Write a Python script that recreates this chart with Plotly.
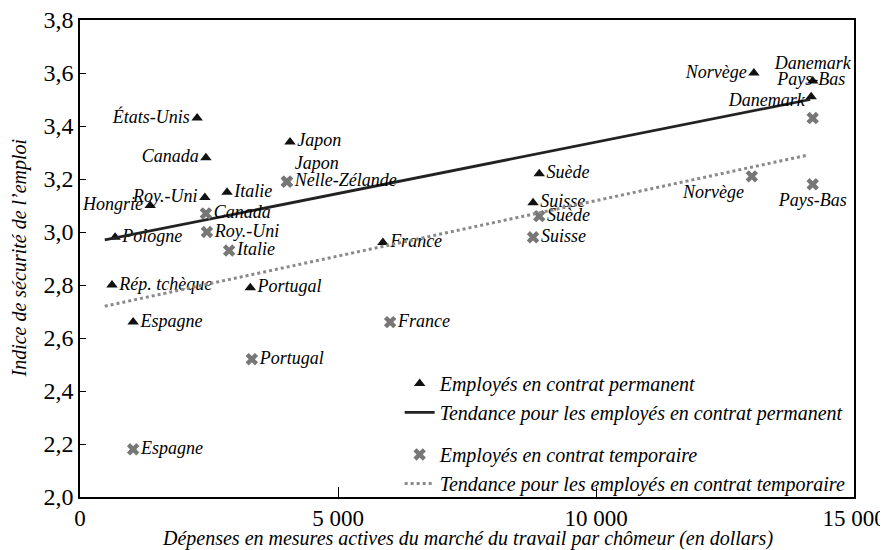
import plotly.graph_objects as go

# ---- data ----
perm_countries = ["États-Unis", "Canada", "Roy.-Uni", "Italie", "Hongrie", "Pologne", "Japon",
                  "Rép. tchèque", "Portugal", "Espagne", "France", "Suède", "Suisse",
                  "Norvège", "Danemark", "Pays-Bas"]
perm_x = [2270, 2440, 2420, 2850, 1360, 680, 4070, 620, 3300, 1030, 5870, 8900, 8780, 13060, 14200, 14170]
perm_y = [3.43, 3.28, 3.13, 3.15, 3.10, 2.98, 3.34, 2.80, 2.79, 2.66, 2.96, 3.22, 3.11, 3.60, 3.57, 3.51]

temp_countries = ["Canada", "Roy.-Uni", "Italie", "Japon", "Nelle-Zélande", "Espagne", "Portugal",
                  "France", "Suède", "Suisse", "Norvège", "Danemark", "Pays-Bas"]
temp_x = [2440, 2460, 2890, 4010, 4010, 1030, 3330, 6010, 8900, 8780, 13020, 14200, 14200]
temp_y = [3.07, 3.00, 2.93, 3.19, 3.19, 2.18, 2.52, 2.66, 3.06, 2.98, 3.21, 3.43, 3.18]

trend_perm_x = [480, 14150]
trend_perm_y = [2.97, 3.50]
trend_temp_x = [480, 14100]
trend_temp_y = [2.72, 3.29]

x_tickvals = [0, 5000, 10000, 15000]
x_ticktext = ["0", "5 000", "10 000", "15 000"]
y_tickvals = [2.0, 2.2, 2.4, 2.6, 2.8, 3.0, 3.2, 3.4, 3.6, 3.8]
y_ticktext = ["2,0", "2,2", "2,4", "2,6", "2,8", "3,0", "3,2", "3,4", "3,6", "3,8"]

x_title = "Dépenses en mesures actives du marché du travail par chômeur (en dollars)"
y_title = "Indice de sécurité de l’emploi"

# ---- label placement ----
perm_pos = ["middle left", "middle left", "middle left", "middle right", "middle left", "middle right",
            "middle right", "middle right", "middle right", "middle right", "middle right",
            "middle right", "middle right", "middle left", "top center", "top center"]
temp_pos = ["middle right", "middle right", "middle right", "top right", "middle right", "middle right",
            "middle right", "middle right", "middle right", "middle right", "bottom left",
            "top left", "bottom center"]

SERIF = "Liberation Serif"
lab_font = dict(family=SERIF, size=18, color="black", style="italic")

fig = go.Figure()
fig.add_trace(go.Scatter(
    x=perm_x, y=perm_y, mode="markers+text", text=perm_countries, textposition=perm_pos,
    textfont=lab_font, name="Employés en contrat permanent", legendgroup="p",
    marker=dict(symbol="triangle-up", size=10, color="#111111"),
))
fig.add_trace(go.Scatter(
    x=trend_perm_x, y=trend_perm_y, mode="lines", legendgroup="p",
    name="Tendance pour les employés en contrat permanent",
    line=dict(color="#222222", width=2.8),
))
fig.add_trace(go.Scatter(
    x=temp_x, y=temp_y, mode="markers+text", text=temp_countries, textposition=temp_pos,
    textfont=lab_font, name="Employés en contrat temporaire", legendgroup="t",
    marker=dict(symbol="x", size=11, color="#777777", line=dict(width=0)),
))
fig.add_trace(go.Scatter(
    x=trend_temp_x, y=trend_temp_y, mode="lines", legendgroup="t",
    name="Tendance pour les employés en contrat temporaire",
    line=dict(color="#8a8a8a", width=3, dash="dot"),
))

# the page body adds an 8px offset, so the figure is 8px smaller than the window
fig.update_layout(
    width=880, height=542,
    margin=dict(l=72, r=34, t=12, b=53),
    paper_bgcolor="white", plot_bgcolor="white",
    font=dict(family=SERIF, color="black"),
    showlegend=True,
    legend=dict(
        x=0.413, y=0.279, xanchor="left", yanchor="top",
        bgcolor="rgba(0,0,0,0)", borderwidth=0,
        font=dict(family=SERIF, size=20, color="black", style="italic"),
        traceorder="grouped", tracegroupgap=13, itemwidth=30,
    ),
    xaxis=dict(
        range=[0, 15000], tickvals=x_tickvals, ticktext=x_ticktext, automargin=False,
        showgrid=False, zeroline=False, showline=True, linecolor="black", linewidth=1.5,
        mirror=True, ticks="inside", ticklen=10, tickcolor="black",
        tickfont=dict(family=SERIF, size=23, color="black"), ticklabeloverflow="allow",
    ),
    yaxis=dict(
        range=[2.0, 3.8], tickvals=y_tickvals, ticktext=y_ticktext, automargin=False,
        showgrid=False, zeroline=False, showline=True, linecolor="black", linewidth=1.5,
        mirror=True, ticks="inside", ticklen=6, tickcolor="black",
        tickfont=dict(family=SERIF, size=24, color="black"), ticklabeloverflow="allow",
    ),
    annotations=[
        dict(text=x_title, xref="paper", yref="paper", x=0.5, y=-0.087,
             xanchor="center", yanchor="middle", showarrow=False,
             font=dict(family=SERIF, size=20, color="black", style="italic")),
        dict(text=y_title, xref="paper", yref="paper", x=-0.0788, y=0.5, textangle=-90,
             xanchor="center", yanchor="middle", showarrow=False,
             font=dict(family=SERIF, size=20, color="black", style="italic")),
    ],
)

fig.write_html("out.html")
